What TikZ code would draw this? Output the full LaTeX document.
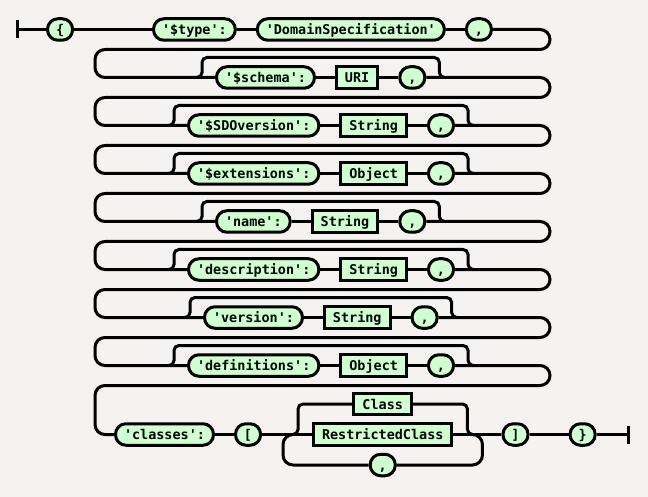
\documentclass[tikz,border=0pt]{standalone}
\usepackage{fontspec}
\setmonofont{DejaVu Sans Mono}
\usepackage{tikz}
\usetikzlibrary{positioning, calc}
\definecolor{tokfill}{RGB}{208,255,208}
\definecolor{paper}{RGB}{245,242,240}
\newcommand{\tq}{\textquotesingle}

\begin{document}
\begin{tikzpicture}[
    x=1pt, y=-1pt,
    node distance=19pt,
    terminal/.style={draw, line width=3pt, fill=tokfill, rounded corners=10.5pt, inner xsep=8.5pt, inner ysep=0pt, minimum height=21.5pt, text height=11.5pt, text depth=1.5pt, font=\ttfamily\bfseries\fontsize{13.45}{16}\selectfont},
    nonterminal/.style={terminal, sharp corners},
    track/.style={line width=3pt},
    rowturn/.style={track, rounded corners=10pt},
    bypass/.style={track, rounded corners=5pt},
    repeatloop/.style={track, rounded corners=10pt}
]
\fill[paper] (0,0) rectangle (648,497);
\useasboundingbox (0,0) rectangle (648,497);

% Row 1
\coordinate (start) at (17,29.5);
\node (lbrace) [terminal, anchor=west] at (46,29.5) {\{};
\node (type) [terminal, anchor=west] at (152,29.5) {\tq\$type\tq:};
\node (domspec) [terminal, right=of type] {\tq DomainSpecification\tq};
\node (c1) [terminal, right=of domspec] {,};

% Optional members
\node (schema) [terminal, anchor=west] at (215,77.5) {\tq\$schema\tq:};
\node (uri) [nonterminal, right=of schema] {URI};
\node (c2) [terminal, right=of uri] {,};

\node (sdov) [terminal, anchor=west] at (187,125.5) {\tq\$SDOversion\tq:};
\node (sdovt) [nonterminal, right=of sdov] {String};
\node (c3) [terminal, right=of sdovt] {,};

\node (ext) [terminal, anchor=west] at (187,173.5) {\tq\$extensions\tq:};
\node (extt) [nonterminal, right=of ext] {Object};
\node (c4) [terminal, right=of extt] {,};

\node (name) [terminal, anchor=west] at (215,221.5) {\tq name\tq:};
\node (namet) [nonterminal, right=of name] {String};
\node (c5) [terminal, right=of namet] {,};

\node (desc) [terminal, anchor=west] at (187,269.5) {\tq description\tq:};
\node (desct) [nonterminal, right=of desc] {String};
\node (c6) [terminal, right=of desct] {,};

\node (vers) [terminal, anchor=west] at (203,317.5) {\tq version\tq:};
\node (verst) [nonterminal, right=of vers] {String};
\node (c7) [terminal, right=of verst] {,};

\node (defs) [terminal, anchor=west] at (187,365.5) {\tq definitions\tq:};
\node (defst) [nonterminal, right=of defs] {Object};
\node (c8) [terminal, right=of defst] {,};

% Last row
\node (classes) [terminal, anchor=west] at (114,434.5) {\tq classes\tq:};
\node (lbrack) [terminal, right=of classes] {[};
\node (rcls) [nonterminal, anchor=west] at (312,434.5) {RestrictedClass};
\node (cls) [nonterminal, above=6pt of rcls] {Class};
\node (rep) [terminal, below=6pt of rcls] {,};
\node (rbrack) [terminal, right=48pt of rcls] {]};
\node (rbrace) [terminal, right=39pt of rbrack] {\}};
\coordinate (finish) at (628,434.5);

% Tracks (row 1)
\draw [track] (start) ++(0,-9) -- ++(0,18);
\draw [track] (start) -- (lbrace);
\draw [track] (lbrace) -- (type);
\draw [track] (type) -- (domspec);
\draw [track] (domspec) -- (c1);

% Tracks (members)
\draw [track] (schema) -- (uri);
\draw [track] (uri) -- (c2);
\draw [track] (sdov) -- (sdovt);
\draw [track] (sdovt) -- (c3);
\draw [track] (ext) -- (extt);
\draw [track] (extt) -- (c4);
\draw [track] (name) -- (namet);
\draw [track] (namet) -- (c5);
\draw [track] (desc) -- (desct);
\draw [track] (desct) -- (c6);
\draw [track] (vers) -- (verst);
\draw [track] (verst) -- (c7);
\draw [track] (defs) -- (defst);
\draw [track] (defst) -- (c8);

% Row turns
\draw [rowturn] (c1) -- (550,29.5) -- (550,49.5) -- (95,49.5) -- (95,77.5) -- (schema);
\draw [rowturn] (c2) -- (550,77.5) -- (550,97.5) -- (95,97.5) -- (95,125.5) -- (sdov);
\draw [rowturn] (c3) -- (550,125.5) -- (550,145.5) -- (95,145.5) -- (95,173.5) -- (ext);
\draw [rowturn] (c4) -- (550,173.5) -- (550,193.5) -- (95,193.5) -- (95,221.5) -- (name);
\draw [rowturn] (c5) -- (550,221.5) -- (550,241.5) -- (95,241.5) -- (95,269.5) -- (desc);
\draw [rowturn] (c6) -- (550,269.5) -- (550,289.5) -- (95,289.5) -- (95,317.5) -- (vers);
\draw [rowturn] (c7) -- (550,317.5) -- (550,337.5) -- (95,337.5) -- (95,365.5) -- (defs);
\draw [rowturn] (c8) -- (550,365.5) -- (550,385.5) -- (95,385.5) -- (95,434.5) -- (classes);

% Bypasses (optional members)
\draw [bypass] (schema.west) ++(-18,0) -- ++(5,0) |- ($(c2.east)+(13,-20)$) -- ++(0,20) -- ++(5,0);
\draw [bypass] (sdov.west) ++(-18,0) -- ++(5,0) |- ($(c3.east)+(13,-20)$) -- ++(0,20) -- ++(5,0);
\draw [bypass] (ext.west) ++(-18,0) -- ++(5,0) |- ($(c4.east)+(13,-20)$) -- ++(0,20) -- ++(5,0);
\draw [bypass] (name.west) ++(-18,0) -- ++(5,0) |- ($(c5.east)+(13,-20)$) -- ++(0,20) -- ++(5,0);
\draw [bypass] (desc.west) ++(-18,0) -- ++(5,0) |- ($(c6.east)+(13,-20)$) -- ++(0,20) -- ++(5,0);
\draw [bypass] (vers.west) ++(-18,0) -- ++(5,0) |- ($(c7.east)+(13,-20)$) -- ++(0,20) -- ++(5,0);
\draw [bypass] (defs.west) ++(-18,0) -- ++(5,0) |- ($(c8.east)+(13,-20)$) -- ++(0,20) -- ++(5,0);

% Tracks (classes)
\draw [track] (classes) -- (lbrack);
\draw [track] (lbrack) -- (rcls);
\draw [track] (rcls) -- (rbrack);
\draw [bypass] ($(rcls.west)+(-19,0)$) -- ++(5,0) |- (cls.west);
\draw [bypass] (cls.east) -| ($(rcls.east)+(14,0)$) -- ++(5,0);
\draw [repeatloop] (rep) -| ($(rcls.west)+(-29,0)$) -- ++(10,0);
\draw [repeatloop] (rep) -| ($(rcls.east)+(29,0)$) -- ++(-10,0);
\draw [track] (rbrack) -- (rbrace);
\draw [track] (rbrace) -- (finish);
\draw [track] (finish) ++(0,-9) -- ++(0,18);

\end{tikzpicture}
\end{document}
